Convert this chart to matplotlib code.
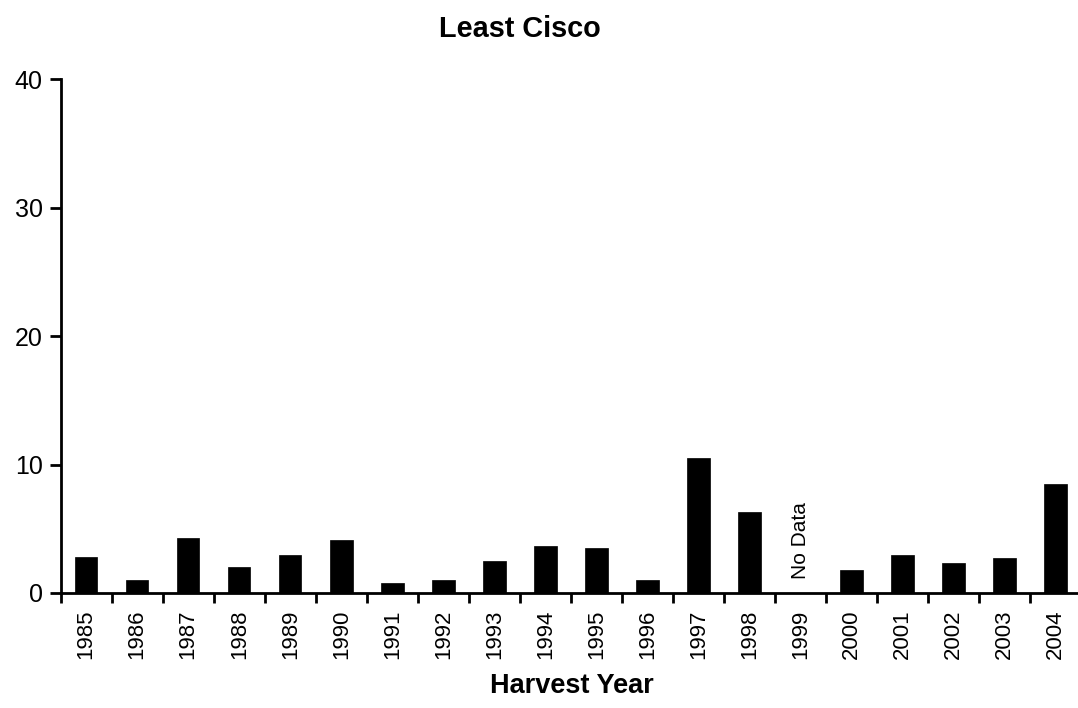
import matplotlib
matplotlib.use("Agg")
import matplotlib.pyplot as plt
import numpy as np

years = ["1985", "1986", "1987", "1988", "1989", "1990", "1991", "1992", "1993", "1994",
         "1995", "1996", "1997", "1998", "1999", "2000", "2001", "2002", "2003", "2004"]
values = [2.80, 1.04, 4.26, 2.02, 2.96, 4.13, 0.78, 0.99, 2.49, 3.69,
          3.53, 0.99, 10.54, 6.31, np.nan, 1.77, 2.98, 2.34, 2.75, 8.51]
no_data_year = "1999"
yticks = [0, 10, 20, 30, 40]

plt.rcParams['font.family'] = ['Liberation Sans', 'DejaVu Sans']

fig = plt.figure(figsize=(10.78, 7.08), dpi=100)
ax = fig.add_axes([60.7/1078, 1 - 593/708, (1081 - 60.7)/1078, (593 - 79.3)/708])

x = np.arange(len(years))
vals = np.array(values, dtype=float)
mask = ~np.isnan(vals)
ax.bar(x[mask], vals[mask], width=0.44, color='black', edgecolor='black', linewidth=0.5)

ax.set_xlim(-0.5, len(years) - 0.5)
ax.set_ylim(0, 40)
ax.set_yticks(yticks)
ax.set_yticklabels([str(t) for t in yticks], fontsize=18)

ax.set_xticks(x)
ax.set_xticklabels(years, rotation=90, fontsize=16)
ax.set_xticks(np.arange(-0.5, len(years) + 0.5, 1), minor=True)
ax.tick_params(axis='x', which='major', length=0, pad=12)
ax.tick_params(axis='x', which='minor', length=7, width=2, direction='out')
ax.tick_params(axis='y', which='major', length=8, width=2, direction='out', pad=5)

for s in ['top', 'right']:
    ax.spines[s].set_visible(False)
for s in ['left', 'bottom']:
    ax.spines[s].set_linewidth(2)

ax.text(years.index(no_data_year), 1.1, "No Data", rotation=90, ha='center', va='bottom',
        fontsize=15)

fig.text(519.5/1078, 1 - 37/708, "Least Cisco", ha='center', va='baseline',
         fontsize=20.8, fontweight='bold')
fig.text(571.5/1078, 1 - 693/708, "Harvest Year", ha='center', va='baseline',
         fontsize=19.5, fontweight='bold')

fig.savefig("out.png", dpi=100)
